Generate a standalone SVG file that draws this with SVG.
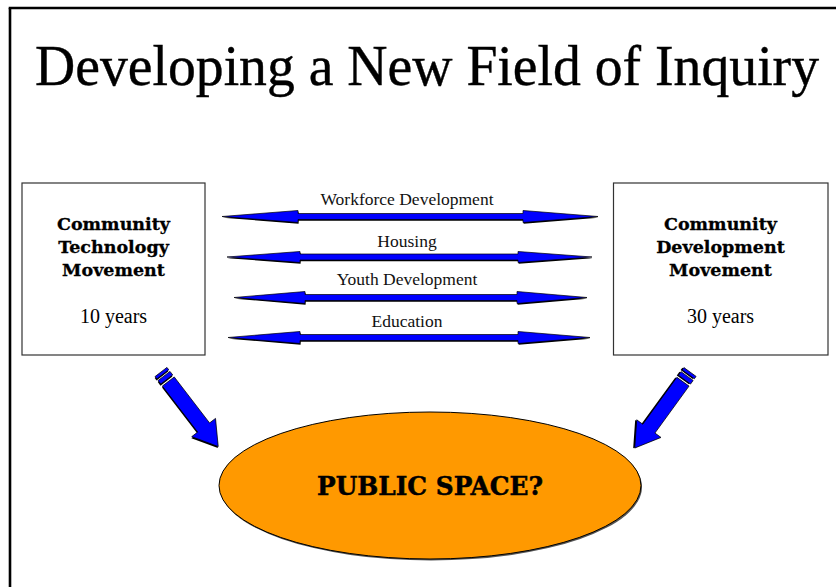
<svg xmlns="http://www.w3.org/2000/svg" width="836" height="587" viewBox="0 0 836 587">
<style>
  .title{font-family:"Liberation Serif","Times New Roman",serif;font-size:56px;fill:#000;stroke:#000;stroke-width:0.4}
  .box{fill:#fff;stroke:#333;stroke-width:1.2}
  .bh{font-family:"DejaVu Serif","Liberation Serif",serif;font-weight:bold;font-size:17.5px;fill:#000;stroke:#000;stroke-width:0.3;text-anchor:middle}
  .yr{font-family:"Liberation Serif","Times New Roman",serif;font-size:20px;fill:#000;text-anchor:middle}
  .lbl{font-family:"Liberation Serif","Times New Roman",serif;font-size:17.5px;fill:#111;text-anchor:middle}
  .arr{fill:#0000FF;stroke:#000;stroke-width:0.7;stroke-linejoin:miter}
  .shd{fill:#000}
  .big{font-family:"DejaVu Serif","Liberation Serif",serif;font-weight:bold;font-size:26px;fill:#000;stroke:#000;stroke-width:0.5;text-anchor:middle}
</style>
<defs>
  <g id="blockArrow">
    <polygon class="shd" transform="translate(1,1.2)" points="12,-7.5 70,-7.5 70,-15 94,0 70,15 70,7.5 12,7.5"/>
    <rect class="shd" transform="translate(1,1.2)" x="0" y="-7.5" width="3" height="15"/>
    <rect class="shd" transform="translate(1,1.2)" x="5" y="-7.5" width="4.5" height="15"/>
    <polygon class="arr" points="12,-7.5 70,-7.5 70,-15 94,0 70,15 70,7.5 12,7.5"/>
    <rect class="arr" x="0" y="-7.5" width="3" height="15"/>
    <rect class="arr" x="5" y="-7.5" width="4.5" height="15"/>
  </g>
</defs>
<rect width="836" height="587" fill="#fff"/>
<g id="frame" fill="none" stroke="#000" stroke-width="2.6">
  <line x1="10" y1="8" x2="10" y2="587"/>
  <line x1="8.7" y1="8" x2="836" y2="8"/>
</g>
<g id="title">
  <text class="title" x="35" y="85" textLength="784" lengthAdjust="spacingAndGlyphs">Developing a New Field of Inquiry</text>
</g>
<g id="node-community-technology">
  <rect class="box" x="22" y="183" width="183" height="172"/>
  <text class="bh" x="113.5" y="230">Community</text>
  <text class="bh" x="113.5" y="253">Technology</text>
  <text class="bh" x="113.5" y="276">Movement</text>
  <text class="yr" x="113.5" y="323">10 years</text>
</g>
<g id="node-community-development">
  <rect class="box" x="613.5" y="183" width="214.5" height="172"/>
  <text class="bh" x="720.5" y="230">Community</text>
  <text class="bh" x="720.5" y="253">Development</text>
  <text class="bh" x="720.5" y="276">Movement</text>
  <text class="yr" x="720.5" y="323">30 years</text>
</g>
<g id="node-public-space">
  <ellipse cx="431" cy="487" rx="211" ry="73.5" fill="#555"/>
  <ellipse cx="430" cy="485.5" rx="211" ry="73.5" fill="#FF9900" stroke="#000" stroke-width="1"/>
  <text class="big" x="430" y="495" textLength="226" lengthAdjust="spacingAndGlyphs">PUBLIC SPACE?</text>
</g>
<g id="connectors">
  <g id="arrow-workforce">
    <polygon class="shd" transform="translate(0.6,1.2)" points="222,216.5 298,210.5 298,213.5 523,213.5 523,210.5 598,216.5 523,222.5 523,219.5 298,219.5 298,222.5"/>
    <polygon class="arr" points="222,216.5 298,210.5 298,213.5 523,213.5 523,210.5 598,216.5 523,222.5 523,219.5 298,219.5 298,222.5"/>
    <text class="lbl" x="407" y="205">Workforce Development</text>
  </g>
  <g id="arrow-housing">
    <polygon class="shd" transform="translate(0.6,1.2)" points="227,257 300,251.5 300,254 518,254 518,251.5 592,257 518,262.5 518,260 300,260 300,262.5"/>
    <polygon class="arr" points="227,257 300,251.5 300,254 518,254 518,251.5 592,257 518,262.5 518,260 300,260 300,262.5"/>
    <text class="lbl" x="407" y="246.5">Housing</text>
  </g>
  <g id="arrow-youth">
    <polygon class="shd" transform="translate(0.6,1.2)" points="234,297.5 305,291.5 305,294.5 517,294.5 517,291.5 587,297.5 517,303.5 517,300.5 305,300.5 305,303.5"/>
    <polygon class="arr" points="234,297.5 305,291.5 305,294.5 517,294.5 517,291.5 587,297.5 517,303.5 517,300.5 305,300.5 305,303.5"/>
    <text class="lbl" x="407" y="285">Youth Development</text>
  </g>
  <g id="arrow-education">
    <polygon class="shd" transform="translate(0.6,1.2)" points="228,337.5 300,331.5 300,334.5 518,334.5 518,331.5 590,337.5 518,343.5 518,340.5 300,340.5 300,343.5"/>
    <polygon class="arr" points="228,337.5 300,331.5 300,334.5 518,334.5 518,331.5 590,337.5 518,343.5 518,340.5 300,340.5 300,343.5"/>
    <text class="lbl" x="407" y="327">Education</text>
  </g>
  <use id="arrow-left-down" href="#blockArrow" transform="translate(161,372) rotate(52.5)"/>
  <use id="arrow-right-down" href="#blockArrow" transform="translate(690,372) rotate(126)"/>
</g>
</svg>
